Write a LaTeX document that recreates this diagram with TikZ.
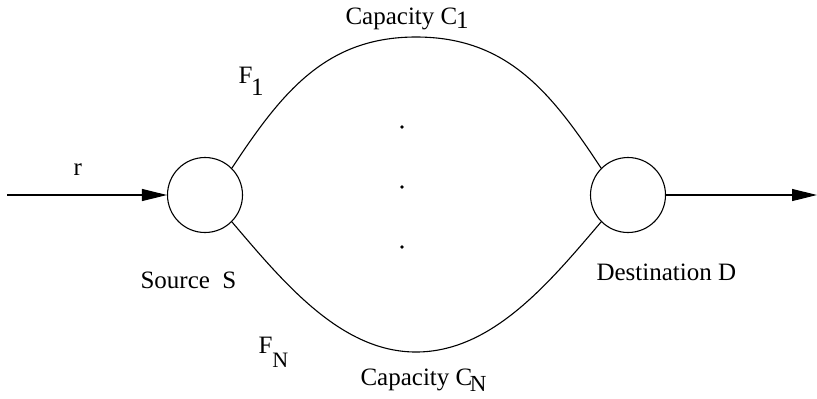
\documentclass[tikz,border=0pt]{standalone}
\usepackage{fontspec}
\setmainfont{Liberation Serif}
\usepackage{tikz}
\usetikzlibrary{arrows.meta,positioning}
\newcommand{\lowsub}[2]{\raisebox{-#1}{#2}}

\begin{document}
\begin{tikzpicture}[
  x=0.5pt, y=-0.5pt,
  font=\fontsize{12.5}{15}\selectfont,
  line width=0.55pt,
  router/.style={draw, circle, minimum size=37.5pt, inner sep=0pt},
  lbl/.style={anchor=base west, inner sep=0pt},
  arr/.style={-{Triangle[length=12.5pt, width=6pt]}},
  route/.style={line width=0.55pt}]
\useasboundingbox (0,0) rectangle (817,398);

\node[router] (src) at (205,195) {};
\node[router] (dst) at (628,195) {};
\coordinate (in)  at (7,195);
\coordinate (out) at (817,195);

% input and output flows
\draw[arr] (in) -- (src);
\draw[arr] (dst) -- (out);

% the parallel paths
\draw[route] (src.45) .. controls (282,92) and (326,37) .. (416,37)
                      .. controls (507,37) and (551,92) .. (dst.135);
\draw[route] (src.-45) .. controls (284,283) and (341,352) .. (416,352)
                       .. controls (492,352) and (549,283) .. (dst.-135);

\foreach \y in {127,187,247}
  \fill (402,\y) circle (0.9pt);

\node[lbl] (rate) at (73,175) {r};
\node[lbl] (srclbl) at (140,288) {Source\ \ S};
\node[lbl] (dstlbl) at (596,280) {Destination D};
\node[lbl] (cap1) at (345,24) {Capacity C\kern-0.05em\lowsub{2pt}{1}};
\node[lbl] (capN) at (360,385) {Capacity C\kern-0.1em\lowsub{3pt}{\fontsize{11.5}{13}\selectfont N}};
\node[lbl] (f1) at (238,83) {F\kern-0.05em\lowsub{6pt}{1}};
\node[lbl] (fN) at (258,353) {F\lowsub{7pt}{\fontsize{11}{13}\selectfont N}};
\end{tikzpicture}
\end{document}
